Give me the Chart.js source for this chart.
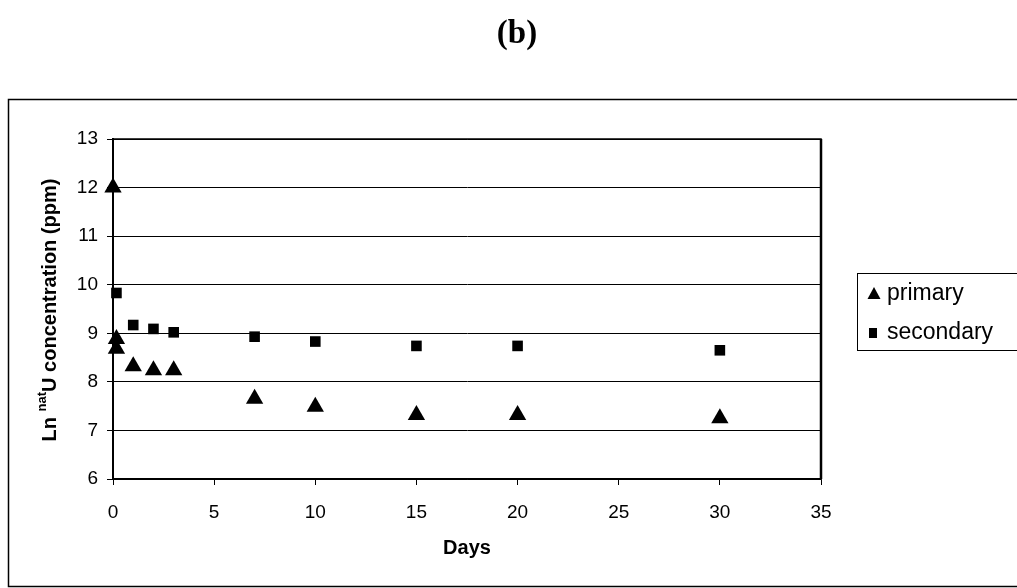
<!DOCTYPE html>
<html>
<head>
<meta charset="utf-8">
<script src="https://cdn.jsdelivr.net/npm/chart.js@4/dist/chart.umd.min.js"></script>
<style>
  html, body { margin: 0; padding: 0; background: #fff; }
  #wrap { width: 1017px; height: 588px; }
</style>
</head>
<body>
<div id="wrap"><canvas id="chart"></canvas></div>
<script>
// Data
const primaryDays = [0, 0.17, 0.17, 1, 2, 3, 7, 10, 15, 20, 30];
const primaryValues = [12.0, 8.88, 8.68, 8.32, 8.24, 8.24, 7.65, 7.49, 7.32, 7.32, 7.25];
const secondaryDays = [0.17, 1, 2, 3, 7, 10, 15, 20, 30];
const secondaryValues = [9.83, 9.17, 9.09, 9.02, 8.93, 8.83, 8.74, 8.74, 8.65];
const seriesNames = ["primary", "secondary"];
const xTicks = [0, 5, 10, 15, 20, 25, 30, 35];
const yTicks = [6, 7, 8, 9, 10, 11, 12, 13];

const FONT = "'Liberation Sans', Arial, sans-serif";

function toPoints(xs, ys) {
  return xs.map((x, i) => ({ x: x, y: ys[i] }));
}

// Frame, title, y label, legend and plot border
const decorations = {
  id: "decorations",
  afterDraw(chart) {
    const ctx = chart.ctx;
    const area = chart.chartArea;
    ctx.save();

    // plot border
    ctx.strokeStyle = "#000";
    ctx.lineWidth = 1.5;
    ctx.strokeRect(area.left, area.top, area.right - area.left, area.bottom - area.top);
    ctx.lineWidth = 2.5;
    ctx.beginPath();
    ctx.moveTo(area.right, area.top);
    ctx.lineTo(area.right, area.bottom);
    ctx.stroke();

    // outer frame
    ctx.lineWidth = 1.5;
    ctx.strokeRect(8.5, 99.5, 1020, 487);

    // panel title
    ctx.fillStyle = "#000";
    ctx.font = "bold 33px 'Liberation Serif', 'Times New Roman', serif";
    ctx.textAlign = "center";
    ctx.textBaseline = "middle";
    ctx.fillText("(b)", 517, 34);

    // y axis title with superscript
    const parts = [
      { t: "Ln ", f: "bold 20px " + FONT, dy: 0 },
      { t: "nat", f: "bold 13px " + FONT, dy: -8 },
      { t: "U concentration (ppm)", f: "bold 20px " + FONT, dy: 0 },
    ];
    let total = 0;
    parts.forEach((p) => {
      ctx.font = p.f;
      p.w = ctx.measureText(p.t).width;
      total += p.w;
    });
    ctx.translate(50, 310);
    ctx.rotate(-Math.PI / 2);
    ctx.textAlign = "left";
    ctx.textBaseline = "middle";
    let cx = -total / 2;
    parts.forEach((p) => {
      ctx.font = p.f;
      ctx.fillText(p.t, cx, p.dy);
      cx += p.w;
    });
    ctx.setTransform(1, 0, 0, 1, 0, 0);

    // legend
    ctx.lineWidth = 1;
    ctx.strokeRect(857.5, 273.5, 170, 77);
    const rows = [294, 333];
    ctx.font = "23px " + FONT;
    ctx.textBaseline = "middle";
    ctx.textAlign = "left";
    // triangle
    ctx.beginPath();
    ctx.moveTo(874, rows[0] - 7);
    ctx.lineTo(880.5, rows[0] + 5);
    ctx.lineTo(867.5, rows[0] + 5);
    ctx.closePath();
    ctx.fill();
    // square
    ctx.fillRect(869, rows[1] - 5, 8, 10);
    ctx.fillText(seriesNames[0], 887, rows[0]);
    ctx.fillText(seriesNames[1], 887, rows[1]);

    ctx.restore();
  },
};

new Chart(document.getElementById("chart"), {
  type: "scatter",
  data: {
    datasets: [
      {
        label: seriesNames[0],
        data: toPoints(primaryDays, primaryValues),
        pointStyle: "triangle",
        pointRadius: 10,
        backgroundColor: "#000",
        borderColor: "#000",
        borderWidth: 0,
        clip: false,
      },
      {
        label: seriesNames[1],
        data: toPoints(secondaryDays, secondaryValues),
        pointStyle: "rect",
        pointRadius: 7.5,
        backgroundColor: "#000",
        borderColor: "#000",
        borderWidth: 0,
        clip: false,
      },
    ],
  },
  options: {
    responsive: true,
    maintainAspectRatio: false,
    animation: false,
    layout: { padding: { left: 0, right: 196, top: 139, bottom: 0 } },
    plugins: {
      legend: { display: false },
      tooltip: { enabled: false },
    },
    scales: {
      x: {
        type: "linear",
        min: 0,
        max: 35,
        afterBuildTicks: (scale) => {
          scale.ticks = xTicks.map((v) => ({ value: v }));
        },
        afterFit: (scale) => {
          scale.height = 109;
        },
        grid: {
          drawOnChartArea: false,
          drawTicks: true,
          tickLength: 6,
          color: "#000",
          lineWidth: 1,
        },
        border: { display: true, color: "#000", width: 1.5 },
        ticks: {
          color: "#000",
          font: { family: FONT, size: 19 },
          padding: 16,
          maxRotation: 0,
        },
        title: {
          display: true,
          text: "Days",
          color: "#000",
          font: { family: FONT, size: 20, weight: "bold" },
          padding: { top: 0, bottom: 28 },
        },
      },
      y: {
        type: "linear",
        min: 6,
        max: 13,
        afterBuildTicks: (scale) => {
          scale.ticks = yTicks.map((v) => ({ value: v }));
        },
        afterFit: (scale) => {
          scale.width = 113;
        },
        grid: {
          drawOnChartArea: true,
          drawTicks: true,
          tickLength: 6,
          color: "#000",
          lineWidth: 1,
        },
        border: { display: true, color: "#000", width: 2 },
        ticks: {
          color: "#000",
          font: { family: FONT, size: 19 },
          padding: 9,
        },
      },
    },
  },
  plugins: [decorations],
});
</script>
</body>
</html>
